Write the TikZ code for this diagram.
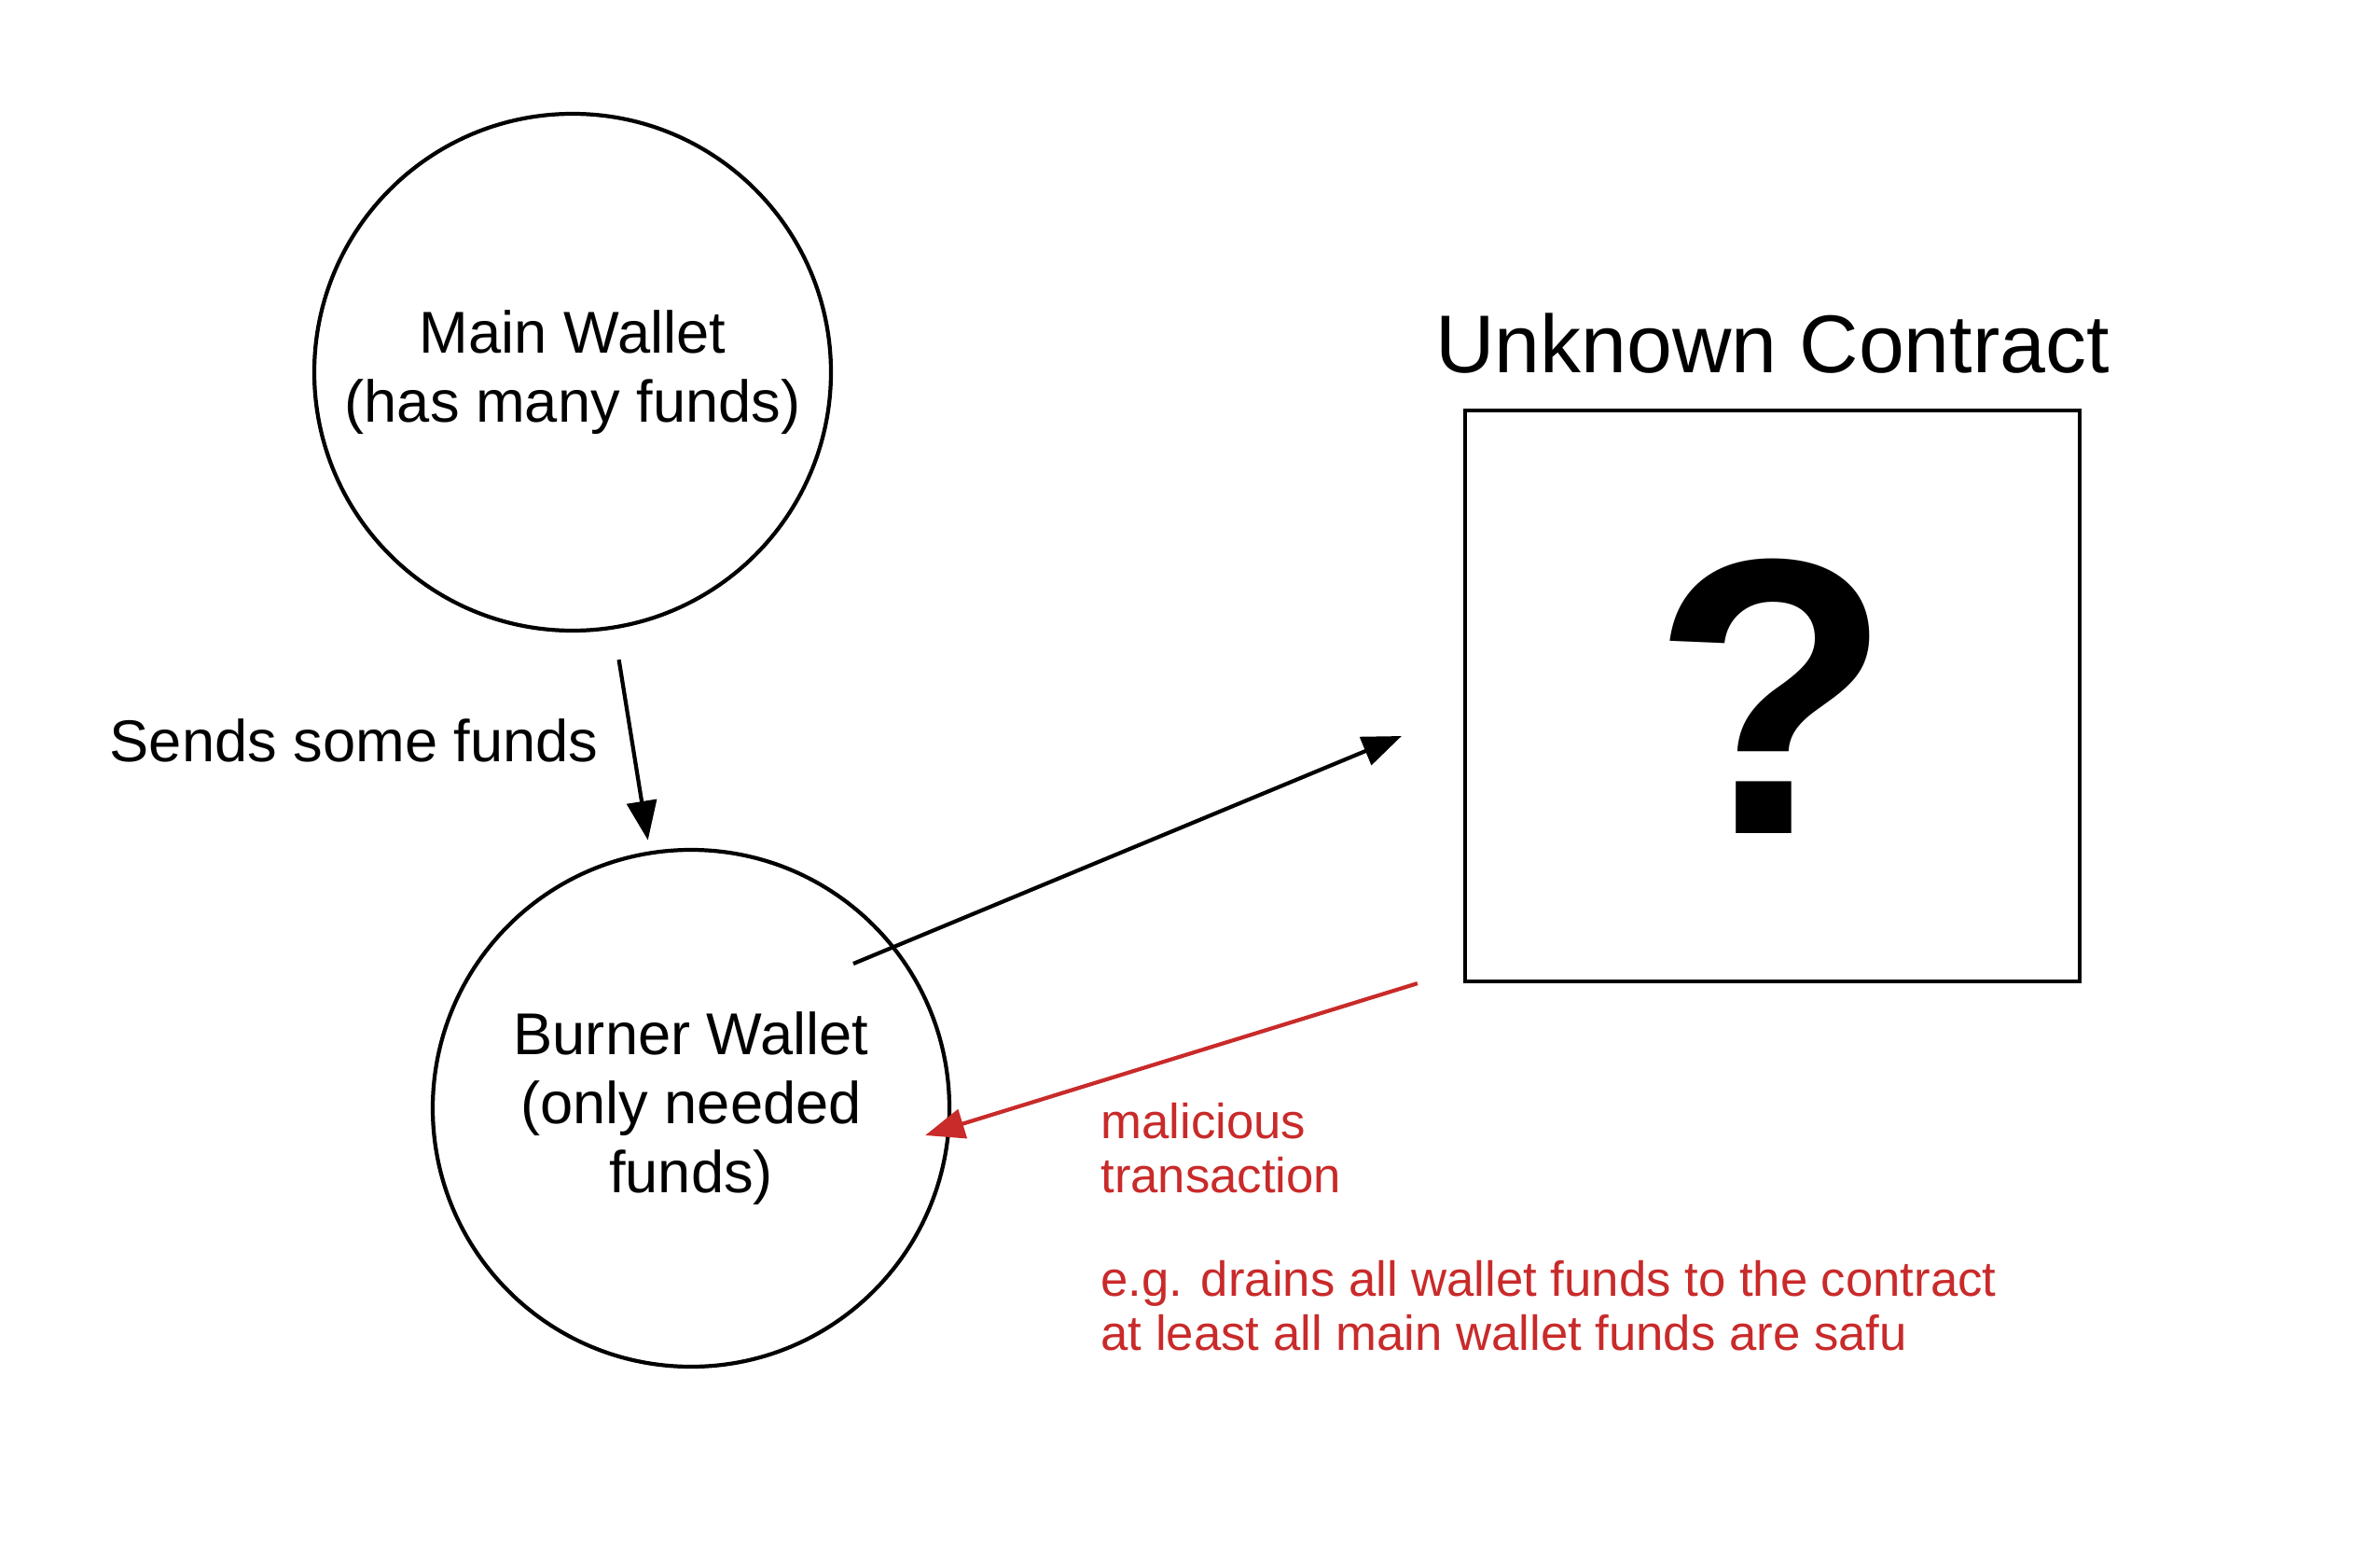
\documentclass[tikz,border=0pt]{standalone}
\usepackage{fontspec}
\setmainfont{Liberation Sans}
\usetikzlibrary{positioning}
\usetikzlibrary{arrows.meta}

\definecolor{sketchred}{HTML}{C92A2A}

\begin{document}
\begin{tikzpicture}[>={Triangle[length=4.2mm,width=3.2mm]},
    wallet/.style={circle, draw, line width=1.2pt, minimum size=5.54cm,
        inner sep=0pt, align=center, font=\fontsize{18}{21}\selectfont},
    flow/.style={->, line width=1.2pt},
    redflow/.style={->, line width=1.2pt, sketchred},
    note/.style={anchor=west, align=left, text=sketchred,
        font=\fontsize{15}{16.5}\selectfont}]

% white background
\fill[white] (0,0) rectangle (25.52,16.53);
\useasboundingbox (0,0) rectangle (25.52,16.53);
%\draw [help lines, lightgray] (0,0) grid (25.5,16.5);

% wallets
\node[wallet] (main) at (6.14, 12.54) {Main Wallet\\(has many funds)};
\node[wallet] (burner) at (7.41, 4.65) {Burner Wallet\\(only needed\\funds)};

% the contract nobody knows
\node[draw, line width=1.2pt, minimum width=6.59cm, minimum height=6.12cm]
    (contract) at (19.005, 9.07) {};
\node[above=2.5mm of contract, font=\fontsize{25}{28}\selectfont]
    (title) {Unknown Contract};
\node[font=\fontsize{120}{120}\selectfont\bfseries] (qm) at (contract.center) {?};

% funding the burner
\draw[flow, shorten <=3.3mm, shorten >=1.2mm] (main) --
    node[left=2.2mm, font=\fontsize{18}{21}\selectfont] (sends) {Sends some funds}
    (burner);

% interacting with the contract
\draw[flow] ([shift={(1.74,1.55)}]burner.center) -- ([shift={(-0.66,-0.43)}]contract.west);
\draw[redflow] ([xshift=-4.9mm]contract.south west) -- ([shift={(-0.28,-0.29)}]burner.east);

\node[note] (malicious) at (11.68, 4.22) {malicious\\transaction};
\node[note] (drain) at (11.68, 2.53)
    {e.g. drains all wallet funds to the contract\\at least all main wallet funds are safu};

\end{tikzpicture}
\end{document}
